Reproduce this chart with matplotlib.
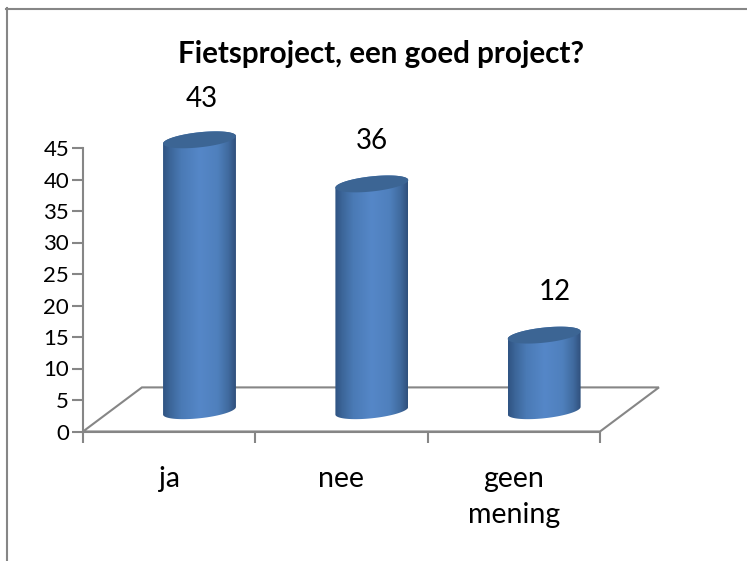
import numpy as np
import matplotlib
matplotlib.use("Agg")
import matplotlib.pyplot as plt
from matplotlib.colors import LinearSegmentedColormap
from matplotlib.patches import Polygon
from matplotlib.lines import Line2D

categories = ["ja", "nee", "geen\nmening"]
values = [43, 36, 12]
y_ticks = [0, 5, 10, 15, 20, 25, 30, 35, 40, 45]
title = "Fietsproject, een goed project?"

W, H = 747, 561
plt.rcParams["font.family"] = ["Lato", "DejaVu Sans"]

fig = plt.figure(figsize=(W / 100, H / 100), dpi=100)
ax = fig.add_axes([83 / W, 1 - 431.5 / H, 517 / W, 283.5 / H])
ax.set_xlim(0, 3)
ax.set_ylim(0, 45)
ax.patch.set_visible(False)
for s in ["top", "right"]:
    ax.spines[s].set_visible(False)
for s in ["left", "bottom"]:
    ax.spines[s].set_color("#868686")
    ax.spines[s].set_linewidth(1.5)
ax.set_xticks([0, 1, 2, 3])
ax.set_xticklabels([])
ax.set_yticks(y_ticks)
ax.tick_params(axis="y", length=8, width=1.5, color="#868686", labelsize=16, pad=2, labelcolor="black")
ax.tick_params(axis="x", length=8, width=1.5, color="#868686")

# floor of the 3d chart
depth_x, depth_y = 0.342, 7
floor = [(0, 0), (depth_x, depth_y), (3 + depth_x, depth_y), (3, 0)]
ax.add_patch(Polygon(floor, closed=True, fill=False, ec="#868686", lw=1.5, clip_on=False, zorder=1))

cmap = LinearSegmentedColormap.from_list(
    "cyl", [(0, "#2f5382"), (0.1, "#3c6699"), (0.25, "#4a7ab5"), (0.5, "#5587c8"),
            (0.75, "#4f80bd"), (0.9, "#406a9e"), (1, "#30507c")])
grad = np.linspace(0, 1, 256).reshape(1, -1)

half_w = 0.2115
minor = 1.2
tilt = 0.6
base = 3.3
t = np.linspace(0, 2 * np.pi, 120)

# the data labels were moved by hand in the original
label_dx = [0.012, 0.0, 0.06]
label_dy = [6.4, 6.75, 6.9]

for i, v in enumerate(values):
    cx = i + 0.5 + depth_x / 2 + 0.005
    ex = cx + half_w * np.cos(t)
    ey = minor * np.sin(t) + tilt * np.cos(t)
    low = t[60:]
    side_x = np.concatenate([cx + half_w * np.cos(t[:60]), cx + half_w * np.cos(low)])
    side_top = v + base + minor * np.sin(t[:60]) + tilt * np.cos(t[:60])
    side_bot = base + minor * np.sin(low) + tilt * np.cos(low)
    body = Polygon(np.column_stack([side_x, np.concatenate([side_top, side_bot])]),
                   closed=True, transform=ax.transData, fc="none", ec="none")
    ax.add_patch(body)
    im = ax.imshow(grad, extent=[cx - half_w, cx + half_w, base - 2, v + base + 2],
                   cmap=cmap, aspect="auto", zorder=3)
    im.set_clip_path(body)
    im.set_clip_box(fig.bbox)
    ax.fill(ex, ey + v + base, fc="#3c6594", ec="none", zorder=4, clip_on=False)
    ax.text(cx + label_dx[i], v + base + label_dy[i], str(v), ha="center", va="center", fontsize=20, zorder=5)

ax.set_xlim(0, 3)
ax.set_ylim(0, 45)

for i, c in enumerate(categories):
    ax.text(i + 0.5, -5.4, c, ha="center", va="top", fontsize=20.5, linespacing=1.5)

fig.text(380.5 / W, 1 - 54 / H, title, ha="center", va="center", fontsize=21.3, fontweight="bold")

# outer frame of the chart
fig.add_artist(Line2D([7 / W, 7 / W], [0, 1 - 8 / H], color="#868686", lw=1.5))
fig.add_artist(Line2D([6 / W, 1], [1 - 9 / H, 1 - 9 / H], color="#868686", lw=1.5))

fig.savefig("out.png", dpi=100)
